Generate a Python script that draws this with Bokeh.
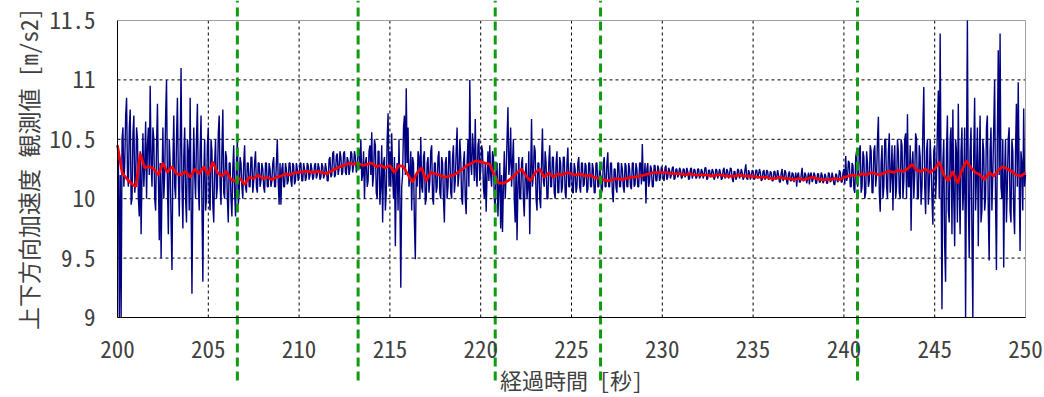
from bokeh.plotting import figure
from bokeh.models import FixedTicker, Range1d, Label
from bokeh.embed import file_html
from bokeh.resources import INLINE

# --- data -----------------------------------------------------------------
T_START = 200.0
RAW_STEP = 0.05      # s between raw samples
SMOOTH_STEP = 0.25   # s between smoothed samples

# vertical acceleration, raw observation [m/s2]; two lines per second
raw_accel = [
    10.45, 10.3, 9.0, 10.2, 9.0, 10.5, 10.6, 10.1, 10.3, 10.7,          # 200
    10.85, 10.2, 10.1, 10.6, 10.75, 9.95, 10.0, 10.55, 10.7, 10.05,
    10.15, 10.6, 10.5, 10.0, 9.85, 10.4, 9.7, 10.2, 10.55, 10.1,        # 201
    10.3, 10.65, 10.0, 10.45, 10.6, 10.2, 10.95, 10.3, 10.1, 10.6,
    10.5, 10.0, 9.9, 10.45, 10.8, 10.2, 9.65, 10.3, 9.5, 10.1,          # 202
    10.6, 10.0, 10.2, 10.7, 11.0, 10.1, 9.7, 10.5, 10.3, 9.8,
    9.4, 10.3, 10.7, 10.1, 10.0, 10.5, 10.85, 10.2, 9.85, 10.4,         # 203
    11.1, 10.1, 9.75, 10.35, 10.6, 10.0, 9.8, 10.5, 10.4, 9.9,
    10.85, 10.0, 9.2, 10.1, 10.6, 10.2, 10.0, 10.5, 10.8, 10.1,         # 204
    9.9, 10.4, 10.7, 9.95, 9.3, 10.2, 10.5, 9.9, 10.0, 10.45,
    10.6, 10.0, 9.9, 10.5, 10.4, 9.95, 9.8, 10.3, 10.5, 10.0,           # 205
    10.1, 10.55, 10.7, 10.1, 9.95, 10.4, 10.75, 10.05, 10.0, 10.4,
    10.35, 10.0, 9.8, 10.3, 10.3, 10.0, 9.85, 10.25, 10.45, 10.05,      # 206
    9.85, 10.3, 10.5, 9.95, 10.05, 10.35, 10.3, 10.1, 10.0, 10.3,
    10.45, 10.1, 10.05, 10.3, 10.3, 10.1, 10.1, 10.35, 10.35, 10.05,    # 207
    10.15, 10.3, 10.4, 10.1, 10.05, 10.3, 10.3, 10.1, 10.15, 10.3,
    10.25, 10.1, 10.05, 10.3, 10.3, 10.1, 10.1, 10.3, 10.25, 10.1,      # 208
    10.15, 10.3, 10.35, 10.1, 10.1, 10.3, 10.5, 10.15, 9.95, 10.3,
    9.95, 10.25, 10.3, 10.1, 10.1, 10.3, 10.25, 10.12, 10.15, 10.3,     # 209
    10.3, 10.15, 10.1, 10.3, 10.28, 10.12, 10.15, 10.3, 10.25, 10.15,
    10.2, 10.3, 10.3, 10.15, 10.15, 10.3, 10.25, 10.15, 10.18, 10.3,    # 210
    10.28, 10.16, 10.2, 10.3, 10.25, 10.16, 10.18, 10.28, 10.3, 10.17,
    10.2, 10.3, 10.26, 10.16, 10.18, 10.3, 10.27, 10.17, 10.2, 10.3,    # 211
    10.25, 10.15, 10.15, 10.33, 10.35, 10.18, 10.2, 10.38, 10.4, 10.18,
    10.2, 10.36, 10.38, 10.2, 10.25, 10.4, 10.35, 10.2, 10.22, 10.38,   # 212
    10.4, 10.22, 10.2, 10.35, 10.32, 10.2, 10.25, 10.4, 10.38, 10.22,
    10.28, 10.4, 10.35, 10.22, 10.25, 10.4, 10.42, 10.25, 10.5, 10.15,  # 213
    10.2, 10.4, 10.0, 10.3, 10.35, 10.1, 10.15, 10.4, 10.45, 10.2,
    10.56, 10.1, 10.2, 10.5, 10.45, 10.05, 10.0, 10.4, 10.4, 9.95,      # 214
    10.1, 10.45, 9.8, 10.3, 10.35, 9.9, 10.05, 10.5, 10.72, 10.1,
    10.4, 10.1, 10.55, 10.2, 10.0, 10.35, 9.6, 10.2, 10.3, 9.9,         # 215
    10.5, 10.0, 9.25, 10.1, 10.2, 10.6, 10.7, 10.2, 10.93, 10.3,
    10.6, 10.1, 10.2, 10.4, 9.9, 10.35, 10.3, 9.8, 9.49, 10.2,          # 216
    10.1, 10.4, 10.35, 10.0, 10.52, 10.1, 10.05, 10.35, 10.4, 9.95,
    10.0, 10.3, 10.35, 10.05, 10.15, 10.4, 10.45, 10.0, 9.95, 10.3,     # 217
    10.3, 10.05, 10.1, 10.35, 10.4, 10.05, 10.0, 10.35, 10.3, 10.0,
    9.8, 10.3, 10.35, 10.0, 10.1, 10.4, 10.4, 10.05, 10.0, 10.35,       # 218
    10.45, 10.05, 10.15, 10.4, 10.6, 10.1, 10.2, 10.5, 10.35, 10.0,
    9.95, 10.3, 10.4, 10.0, 9.87, 10.3, 10.5, 10.1, 11.0, 10.3,         # 219
    10.2, 10.55, 10.4, 10.15, 10.67, 10.2, 10.1, 10.45, 10.5, 10.15,
    10.25, 10.45, 10.4, 10.1, 10.0, 10.3, 9.89, 10.2, 10.4, 10.15,      # 220
    10.45, 10.2, 10.1, 10.4, 10.35, 10.0, 9.9, 10.3, 10.3, 9.85,
    10.1, 10.3, 9.75, 10.2, 9.72, 10.1, 10.4, 10.0, 10.2, 10.5,         # 221
    10.77, 10.2, 10.3, 10.6, 10.1, 10.3, 10.5, 10.0, 9.8, 10.3,
    9.65, 10.1, 10.35, 10.0, 10.0, 10.3, 10.35, 10.0, 9.85, 10.2,       # 222
    10.3, 10.0, 10.1, 10.4, 9.7, 10.2, 10.67, 10.1, 10.2, 10.45,
    10.4, 10.0, 9.9, 10.3, 10.3, 10.0, 9.92, 10.3, 10.59, 10.15,        # 223
    10.1, 10.4, 10.3, 10.0, 10.0, 10.3, 10.45, 10.1, 10.1, 10.35,
    10.35, 10.05, 10.0, 10.3, 10.4, 10.05, 10.05, 10.35, 10.3, 10.05,   # 224
    10.1, 10.35, 10.35, 10.05, 10.0, 10.3, 10.43, 10.1, 10.1, 10.3,
    10.3, 10.05, 10.05, 10.3, 10.25, 10.05, 10.1, 10.3, 10.35, 10.1,    # 225
    10.05, 10.3, 10.3, 10.1, 10.12, 10.3, 10.28, 10.05, 10.08, 10.3,
    10.3, 10.1, 10.1, 10.3, 10.25, 10.05, 10.05, 10.3, 10.3, 10.1,      # 226
    10.1, 10.28, 10.2, 10.05, 10.08, 10.3, 10.35, 10.1, 10.1, 10.3,
    10.39, 10.1, 10.1, 10.3, 10.3, 10.05, 9.97, 10.25, 10.25, 10.1,     # 227
    10.05, 10.3, 10.3, 10.1, 10.1, 10.3, 10.25, 10.1, 10.05, 10.3,
    10.28, 10.1, 10.1, 10.3, 10.25, 10.1, 10.08, 10.3, 10.3, 10.1,      # 228
    10.12, 10.3, 10.25, 10.1, 10.1, 10.3, 10.3, 10.12, 10.46, 10.15,
    10.15, 10.3, 9.96, 10.25, 10.3, 10.1, 10.15, 10.28, 10.25, 10.1,    # 229
    10.1, 10.28, 10.28, 10.15, 10.15, 10.28, 10.25, 10.15, 10.18, 10.27,
    10.25, 10.17, 10.15, 10.26, 10.28, 10.16, 10.18, 10.26, 10.24, 10.17,  # 230
    10.2, 10.26, 10.27, 10.16, 10.17, 10.25, 10.25, 10.18, 10.2, 10.26,
    10.24, 10.17, 10.18, 10.25, 10.25, 10.18, 10.2, 10.26, 10.23, 10.16,   # 231
    10.17, 10.25, 10.26, 10.17, 10.2, 10.25, 10.24, 10.17, 10.18, 10.25,
    10.25, 10.17, 10.19, 10.25, 10.23, 10.17, 10.2, 10.26, 10.26, 10.16,   # 232
    10.17, 10.24, 10.24, 10.18, 10.2, 10.25, 10.23, 10.16, 10.18, 10.25,
    10.24, 10.17, 10.2, 10.25, 10.22, 10.16, 10.17, 10.24, 10.26, 10.17,   # 233
    10.19, 10.25, 10.23, 10.17, 10.2, 10.26, 10.25, 10.17, 10.14, 10.23,
    10.23, 10.16, 10.18, 10.25, 10.24, 10.17, 10.2, 10.25, 10.22, 10.16,   # 234
    10.18, 10.24, 10.29, 10.17, 10.16, 10.24, 10.22, 10.16, 10.19, 10.24,
    10.23, 10.16, 10.17, 10.24, 10.24, 10.17, 10.2, 10.25, 10.22, 10.15,   # 235
    10.16, 10.23, 10.24, 10.16, 10.18, 10.24, 10.23, 10.16, 10.17, 10.23,
    10.22, 10.15, 10.15, 10.23, 10.23, 10.16, 10.18, 10.24, 10.2, 10.14,   # 236
    10.14, 10.22, 10.25, 10.15, 10.17, 10.24, 10.22, 10.14, 10.12, 10.21,
    10.23, 10.15, 10.15, 10.22, 10.21, 10.14, 10.17, 10.22, 10.1, 10.2,    # 237
    10.22, 10.14, 10.14, 10.2, 10.26, 10.15, 10.15, 10.22, 10.2, 10.13,
    10.17, 10.22, 10.12, 10.2, 10.22, 10.14, 10.16, 10.22, 10.2, 10.13,    # 238
    10.13, 10.21, 10.21, 10.14, 10.14, 10.22, 10.2, 10.13, 10.15, 10.21,
    10.19, 10.13, 10.13, 10.22, 10.21, 10.14, 10.15, 10.22, 10.18, 10.12,  # 239
    10.12, 10.21, 10.2, 10.14, 10.15, 10.24, 10.22, 10.14, 10.14, 10.22,
    10.25, 10.12, 10.36, 10.15, 10.18, 10.32, 10.3, 10.1, 10.1, 10.3,      # 240
    10.28, 10.08, 10.05, 10.35, 10.4, 10.1, 10.15, 10.4, 10.45, 10.05,
    10.1, 10.4, 10.35, 10.0, 10.05, 10.4, 10.3, 10.1, 10.15, 10.45,        # 241
    10.4, 10.05, 10.05, 10.4, 10.45, 10.1, 10.2, 10.5, 10.69, 10.05,
    9.89, 10.3, 10.45, 10.0, 10.1, 10.5, 10.5, 10.1, 10.0, 10.4,           # 242
    10.55, 10.05, 10.2, 10.45, 9.9, 10.3, 10.45, 10.0, 10.1, 10.5,
    10.4, 10.05, 10.0, 10.5, 10.45, 10.0, 10.15, 10.5, 10.55, 10.0,        # 243
    10.71, 10.1, 10.1, 10.45, 9.73, 10.3, 10.4, 10.0, 10.2, 10.55,
    10.5, 10.0, 10.0, 10.45, 10.35, 9.95, 10.1, 10.6, 10.94, 10.1,         # 244
    9.87, 10.4, 10.5, 9.95, 10.1, 10.5, 10.3, 10.0, 9.78, 10.4,
    10.45, 10.0, 10.2, 10.6, 10.91, 10.0, 11.39, 10.2, 9.07, 10.3,         # 245
    10.5, 9.6, 9.3, 10.4, 10.7, 9.9, 9.8, 10.5, 10.6, 9.7,
    10.75, 10.0, 9.6, 10.5, 10.4, 9.8, 10.8, 10.1, 9.7, 10.4,              # 246
    10.6, 9.9, 10.1, 10.6, 9.0, 10.3, 11.5, 10.0, 9.5, 10.4,
    10.6, 9.7, 9.0, 10.4, 10.85, 9.9, 10.2, 10.6, 9.6, 10.3,               # 247
    10.7, 9.8, 9.9, 10.5, 10.4, 9.9, 10.0, 10.6, 10.7, 9.9,
    9.48, 10.4, 10.6, 9.9, 10.2, 10.6, 11.0, 10.0, 9.4, 10.5,              # 248
    11.25, 10.2, 11.39, 10.1, 10.0, 10.5, 9.42, 10.2, 10.5, 9.8,
    10.1, 10.5, 10.6, 9.9, 9.8, 10.5, 10.4, 9.9, 9.7, 10.4,                # 249
    10.8, 10.1, 10.98, 10.2, 9.56, 10.4, 10.3, 9.9, 10.76, 10.1,
    10.2,                                                                  # 250
]

# smoothed (moving-average) acceleration [m/s2], four samples per second
smooth_accel = [
    10.45, 10.22, 10.17, 10.13,   # 200
    10.10, 10.38, 10.26, 10.27,   # 201
    10.25, 10.20, 10.30, 10.22,   # 202
    10.27, 10.21, 10.20, 10.23,   # 203
    10.18, 10.25, 10.21, 10.27,   # 204
    10.20, 10.31, 10.22, 10.19,   # 205
    10.23, 10.16, 10.15, 10.17,   # 206
    10.12, 10.18, 10.17, 10.20,   # 207
    10.17, 10.18, 10.16, 10.18,   # 208
    10.19, 10.21, 10.20, 10.22,   # 209
    10.22, 10.23, 10.23, 10.22,   # 210
    10.23, 10.22, 10.21, 10.23,   # 211
    10.25, 10.27, 10.28, 10.30,   # 212
    10.29, 10.30, 10.28, 10.29,   # 213
    10.30, 10.27, 10.28, 10.26,   # 214
    10.28, 10.22, 10.28, 10.27,   # 215
    10.20, 10.14, 10.22, 10.26,   # 216
    10.15, 10.22, 10.21, 10.20,   # 217
    10.18, 10.19, 10.20, 10.22,   # 218
    10.25, 10.28, 10.30, 10.32,   # 219
    10.31, 10.30, 10.29, 10.20,   # 220
    10.13, 10.13, 10.15, 10.18,   # 221
    10.22, 10.25, 10.19, 10.15,   # 222
    10.22, 10.25, 10.18, 10.22,   # 223
    10.18, 10.21, 10.20, 10.22,   # 224
    10.21, 10.20, 10.21, 10.19,   # 225
    10.20, 10.18, 10.17, 10.16,   # 226
    10.15, 10.16, 10.17, 10.16,   # 227
    10.17, 10.18, 10.18, 10.19,   # 228
    10.20, 10.21, 10.22, 10.22,   # 229
    10.22, 10.22, 10.21, 10.21,   # 230
    10.21, 10.20, 10.21, 10.20,   # 231
    10.20, 10.20, 10.20, 10.19,   # 232
    10.20, 10.20, 10.19, 10.19,   # 233
    10.19, 10.20, 10.19, 10.19,   # 234
    10.19, 10.18, 10.18, 10.18,   # 235
    10.17, 10.17, 10.18, 10.17,   # 236
    10.17, 10.16, 10.17, 10.16,   # 237
    10.17, 10.18, 10.17, 10.16,   # 238
    10.16, 10.16, 10.17, 10.16,   # 239
    10.18, 10.19, 10.20, 10.19,   # 240
    10.21, 10.20, 10.22, 10.21,   # 241
    10.20, 10.22, 10.23, 10.22,   # 242
    10.24, 10.23, 10.25, 10.29,   # 243
    10.24, 10.23, 10.25, 10.22,   # 244
    10.25, 10.31, 10.20, 10.15,   # 245
    10.23, 10.13, 10.24, 10.32,   # 246
    10.26, 10.22, 10.20, 10.16,   # 247
    10.22, 10.19, 10.24, 10.27,   # 248
    10.25, 10.23, 10.20, 10.19,   # 249
    10.22,                        # 250
]

# moments of the marked events [s]
event_times = [206.6, 213.25, 220.8, 226.6, 240.75]

x_ticks = [200, 205, 210, 215, 220, 225, 230, 235, 240, 245, 250]
x_tick_labels = ["200", "205", "210", "215", "220", "225", "230", "235", "240", "245", "250"]
y_ticks = [9, 9.5, 10, 10.5, 11, 11.5]
y_tick_labels = ["9", "9.5", "10", "10.5", "11", "11.5"]

x_title = "経過時間 [秒]"
y_title = "上下方向加速度 観測値 [m/s2]"

# --- layout constants (pixels) ---------------------------------------------
WIDTH, HEIGHT = 1044, 397
BOX_LEFT, BOX_W = 117, 908         # plotting box left offset and width
BOX_TOP, BOX_H = 20, 297           # plotting box top offset and height
MARK_BOTTOM_PX = 380               # how far down the event markers reach

FONT = "Noto Sans Mono CJK JP, Noto Sans CJK JP"
TEXT_COLOR = "#404040"

# The frame covers the whole canvas, so the event markers and the axis
# texts are not clipped; the box, grid and axis lines are bounded to the
# tick extents.
x_lo, x_hi = x_ticks[0], x_ticks[-1]
y_lo, y_hi = y_ticks[0], y_ticks[-1]
ux = (x_hi - x_lo) / BOX_W
uy = (y_hi - y_lo) / BOX_H
frame_left = x_lo - BOX_LEFT * ux
frame_right = x_hi + (WIDTH - BOX_LEFT - BOX_W) * ux
frame_top = y_hi + BOX_TOP * uy
frame_bottom = y_lo - (HEIGHT - BOX_TOP - BOX_H) * uy
mark_bottom = y_hi - (MARK_BOTTOM_PX - BOX_TOP) * uy

raw_t = [T_START + RAW_STEP * i for i in range(len(raw_accel))]
smooth_t = [T_START + SMOOTH_STEP * i for i in range(len(smooth_accel))]

p = figure(
    width=WIDTH, height=HEIGHT,
    x_range=Range1d(frame_left, frame_right),
    y_range=Range1d(frame_bottom, frame_top),
    output_backend="svg", toolbar_location=None,
    min_border_left=0, min_border_right=0,
    min_border_top=0, min_border_bottom=0,
)
p.background_fill_color = "white"
p.border_fill_color = "white"
p.outline_line_color = None
p.xgrid.visible = False
p.ygrid.visible = False

# dotted grid inside the box
inner_x = x_ticks[1:-1]
inner_y = y_ticks[1:-1]
p.segment(x0=inner_x, y0=[y_lo] * len(inner_x), x1=inner_x, y1=[y_hi] * len(inner_x),
          line_color="black", line_width=1, line_dash="3 3")
p.segment(x0=[x_lo] * len(inner_y), y0=inner_y, x1=[x_hi] * len(inner_y), y1=inner_y,
          line_color="black", line_width=1, line_dash="3 3")

# plotting box border
p.quad(left=x_lo, right=x_hi, bottom=y_lo, top=y_hi,
       fill_color=None, line_color="#a0a0a0", line_width=1)

# axes, pinned to the box edges
p.xaxis.fixed_location = y_lo
p.xaxis.bounds = (x_lo, x_hi)
p.xaxis.ticker = FixedTicker(ticks=x_ticks)
p.xaxis.major_label_overrides = {t: s for t, s in zip(x_ticks, x_tick_labels)}
p.xaxis.axis_label = x_title
p.yaxis.fixed_location = x_lo
p.yaxis.bounds = (y_lo, y_hi)
p.yaxis.ticker = FixedTicker(ticks=y_ticks)
p.yaxis.major_label_overrides = {t: s for t, s in zip(y_ticks, y_tick_labels)}

for ax in (p.xaxis, p.yaxis):
    ax.axis_line_color = "black"
    ax.axis_line_width = 1
    ax.major_tick_in = 0
    ax.major_tick_out = 0
    ax.minor_tick_in = 0
    ax.minor_tick_out = 0
    ax.major_label_text_font = FONT
    ax.major_label_text_font_size = "23px"
    ax.major_label_text_color = TEXT_COLOR
    ax.axis_label_text_font = FONT
    ax.axis_label_text_font_size = "22px"
    ax.axis_label_text_font_style = "normal"
    ax.axis_label_text_color = TEXT_COLOR

p.yaxis.major_label_standoff = 22
p.xaxis.major_label_standoff = 23
p.xaxis.axis_label_standoff = 2

# vertical title, left of the tick labels
p.add_layout(Label(
    x=x_lo, y=(y_lo + y_hi) / 2, x_offset=-90,
    text=y_title, angle=90, angle_units="deg",
    text_align="center", text_baseline="middle",
    text_font=FONT, text_font_size="23px", text_color=TEXT_COLOR,
))

# raw observation and its moving average
p.line(raw_t, raw_accel, line_color="#000080", line_width=1.4)
p.line(smooth_t, smooth_accel, line_color="#ff0000", line_width=2.6)

# event markers, running past the box
n_ev = len(event_times)
p.segment(x0=event_times, y0=[mark_bottom] * n_ev, x1=event_times, y1=[frame_top] * n_ev,
          line_color="#109a10", line_width=3, line_dash="9 5")

open("out.html", "w").write(file_html(p, INLINE))
